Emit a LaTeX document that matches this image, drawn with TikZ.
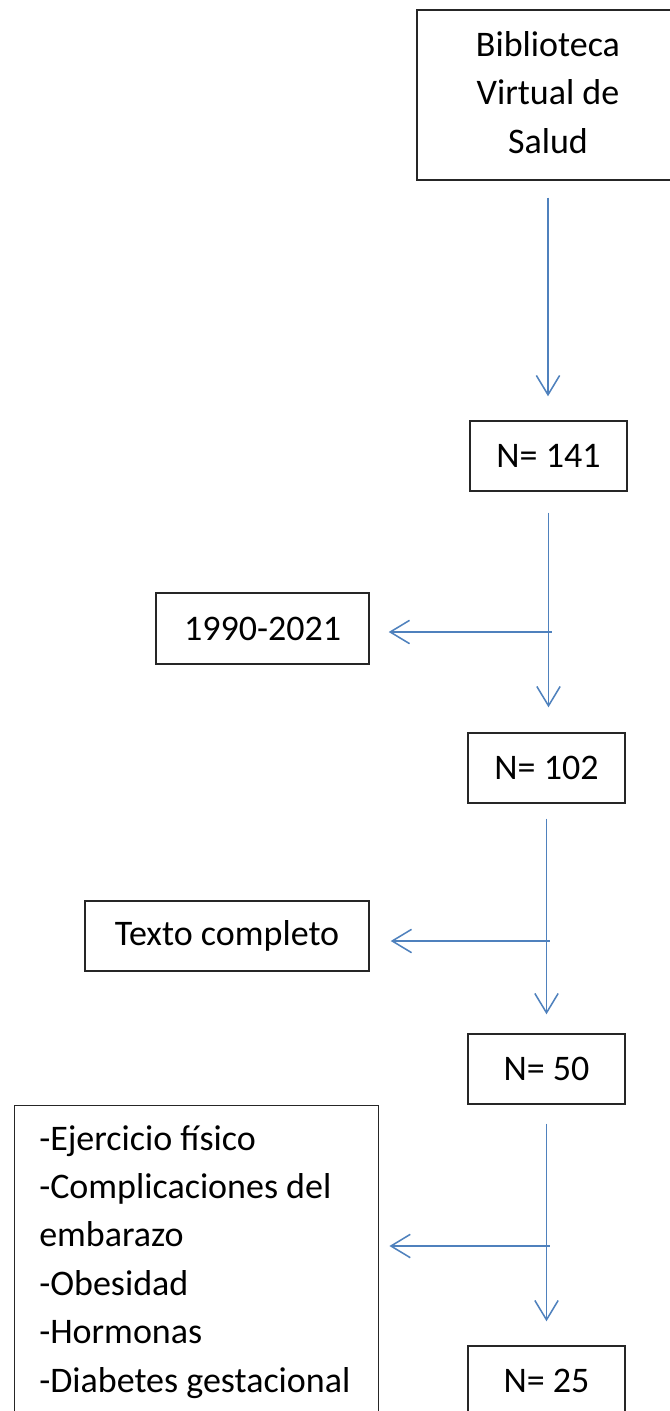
\documentclass[tikz,border=0pt]{standalone}
\usepackage{fontspec}
\setmainfont{Carlito}
\usetikzlibrary{arrows.meta}
\definecolor{arrowblue}{RGB}{79,129,189}
\begin{document}
\begin{tikzpicture}[x=0.75pt,y=-0.75pt,
  txt/.style={font=\fontsize{27}{36.3}\selectfont},
  box/.style={txt, draw=black!85, line width=1.1pt, inner sep=0pt, align=center},
  nbox/.style={box, minimum width=117.75pt, minimum height=52.5pt},
  ln/.style={draw=arrowblue, line width=1.15pt},
  arr/.style={ln, -{Straight Barb[length=14.5pt,width=17.5pt,line width=1.15pt]}}]
\useasboundingbox (0,0) rectangle (670,1411);
\clip (0,0) rectangle (670,1411);
% boxes
\node[box, minimum width=196.5pt, minimum height=127.5pt] (bib) at (548,95) {Biblioteca\\Virtual de\\Salud\vphantom{p}};
\node[nbox] (n141) at (548.5,456) {N= 141};
\node[box, minimum width=159.75pt, minimum height=53.25pt] (y1990) at (262.5,628.5) {1990-2021};
\node[nbox] (n102) at (546.5,768) {N= 102};
\node[box, minimum width=213pt, minimum height=52.5pt] (texto) at (227,936) {Texto completo};
\node[nbox] (n50) at (546.5,1069) {N= 50};
\node[box, anchor=north west, minimum width=273pt, minimum height=243.75pt] (list) at (14,1105) {};
\node[txt, anchor=north west, inner sep=0pt, align=left] (listtxt) at (39,1116)
  {\strut-Ejercicio físico\\-Complicaciones del\\embarazo\\-Obesidad\\-Hormonas\\-Diabetes gestacional};
\node[nbox] (n25) at (546.5,1381) {N= 25};
% connectors
\draw[arr, shorten <=12.75pt, shorten >=18pt] (bib.south) -- (bib.south |- n141.north);
\coordinate (j1) at (548.5,632);
\draw[arr, shorten <=15.75pt, shorten >=18.75pt] (n141.south) -- (n141.south |- n102.north);
\draw[arr, shorten >=14.25pt] ([xshift=2.25pt]j1) -- (j1 -| y1990.east);
\coordinate (j2) at (546.5,941);
\draw[arr, shorten <=11.25pt, shorten >=14.25pt] (n102.south) -- (n102.south |- n50.north);
\draw[arr, shorten >=15.75pt] ([xshift=2.25pt]j2) -- (j2 -| texto.east);
\coordinate (j3) at (546.5,1246);
\draw[arr, shorten <=14.25pt, shorten >=18pt] (n50.south) -- (n50.south |- n25.north);
\draw[arr, shorten >=7.5pt] ([xshift=2.25pt]j3) -- (j3 -| list.east);
\end{tikzpicture}
\end{document}
